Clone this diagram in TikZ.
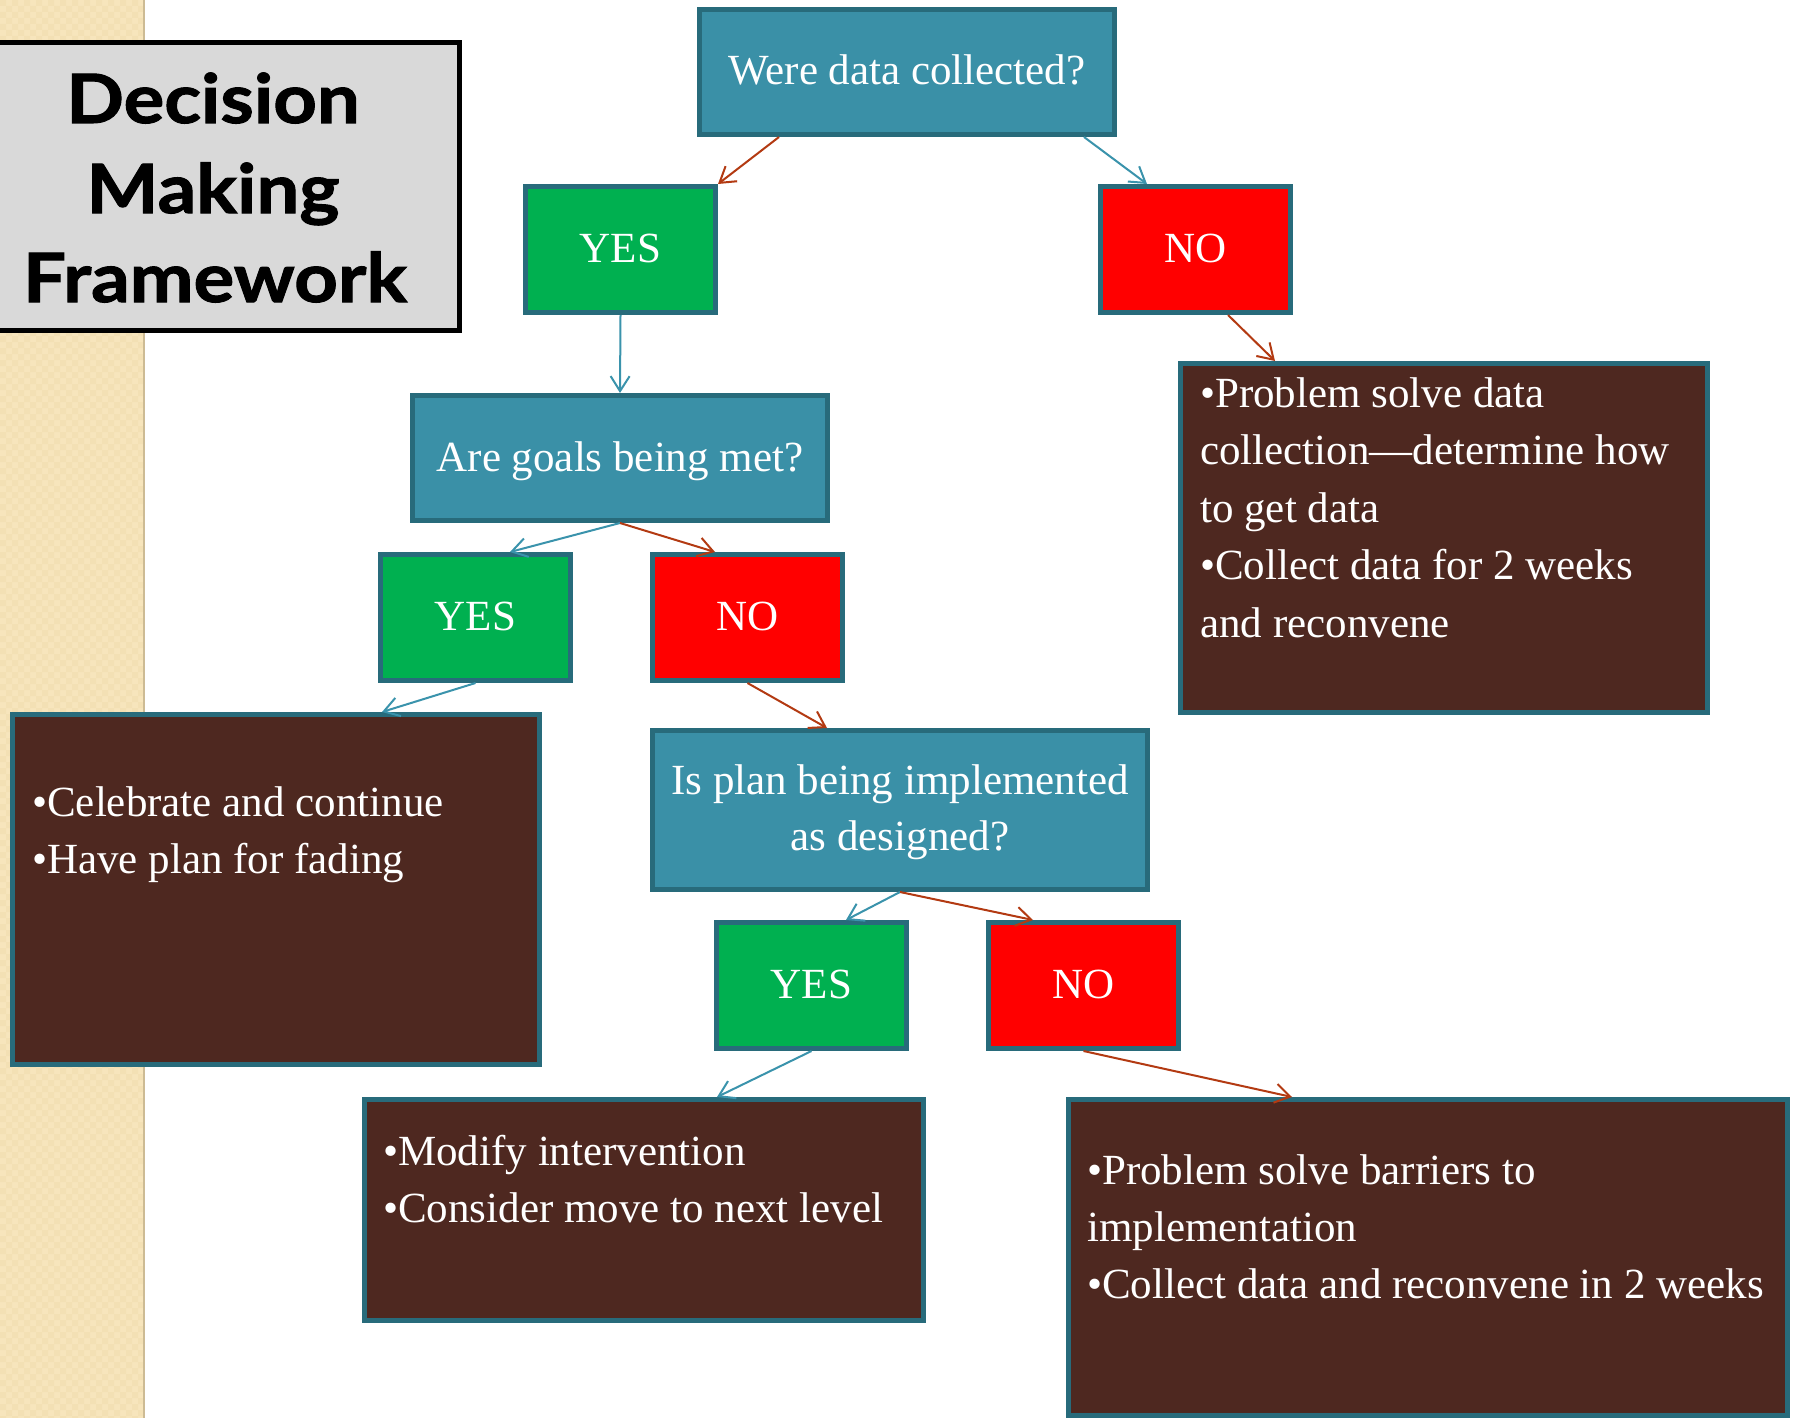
\documentclass[tikz,border=0pt]{standalone}
\usepackage{fontspec}
\setmainfont{Liberation Serif}
\newfontfamily\headfont{Lato}[FakeStretch=1.12, BoldFeatures={FakeBold=1.5}]
\usetikzlibrary{arrows.meta,calc}

\definecolor{qfill}{HTML}{3A90A7}
\definecolor{edge}{HTML}{286B7B}
\definecolor{yesfill}{HTML}{00B050}
\definecolor{nofill}{HTML}{FF0000}
\definecolor{actfill}{HTML}{4E2820}
\definecolor{tealarrow}{HTML}{3A93AC}
\definecolor{redarrow}{HTML}{B33A12}
\definecolor{stripA}{HTML}{F8E7C0}
\definecolor{stripB}{HTML}{F1DCAE}
\definecolor{titlefill}{HTML}{D9D9D9}

\begin{document}
\begin{tikzpicture}[x=1pt,y=-1pt,
  box/.style={draw=edge, line width=5pt, outer sep=2.5pt, inner sep=0pt,
    anchor=north west, text=white, font=\fontsize{43}{52}\selectfont,
    text height=30pt, text depth=4pt},
  qbox/.style={box, fill=qfill, minimum width=415pt, minimum height=125pt},
  yesbox/.style={box, fill=yesfill, minimum width=190pt, minimum height=126pt},
  nobox/.style={box, fill=nofill, minimum width=190pt, minimum height=126pt},
  actbox/.style={box, fill=actfill},
  btext/.style={anchor=base west, inner sep=0pt, text=white,
    font=\fontsize{43}{52}\selectfont},
  ctext/.style={anchor=base, inner sep=0pt, text=white,
    font=\fontsize{43}{52}\selectfont},
  ttext/.style={anchor=base, inner sep=0pt, text=black,
    font=\headfont\bfseries\fontsize{68}{80}\selectfont},
  link/.style={line width=2pt, -{Straight Barb[length=15pt,width=19pt]}},
  yeslink/.style={link, draw=tealarrow},
  nolink/.style={link, draw=redarrow}
]
\useasboundingbox (0,0) rectangle (1796,1418);
\fill[white] (0,0) rectangle (1796,1418);

% textured side strip
\fill[stripA!80!stripB] (0,0) rectangle (145,1418);
\fill[stripB, opacity=0.55] \foreach \i in {0,...,23} {
  \foreach \j in {0,...,118} {
    ({\i*6},{(2*\j+mod(\i,2))*6}) rectangle ++(6,6)
  }
};
\draw[line width=2pt, color=stripB!85!black] (144,0) -- (144,1418);

% title panel
\node[draw=black, line width=5pt, outer sep=2.5pt, inner sep=0pt, fill=titlefill,
  anchor=north west, minimum width=467pt, minimum height=288pt] (title) at (-10,40) {};
\node[ttext] (t1) at (213,123) {Decision};
\node[ttext] (t2) at (213,213) {Making};
\node[ttext] (t3) at (215,302) {Framework};

% decision questions
\node[qbox] (q1) at (697,7) {Were data collected?};
\node[qbox] (q2) at (410,393) {Are goals being met?};
\node[qbox, minimum width=495pt, minimum height=159pt] (q3) at (650,728) {};
\node[ctext] (q3a) at (900,794) {Is plan being implemented};
\node[ctext] (q3b) at (900,850) {as designed?};

% answers
\node[yesbox] (y1) at (523,184) {YES};
\node[nobox]  (n1) at (1098,184) {NO};
\node[yesbox] (y2) at (378,552) {YES};
\node[nobox]  (n2) at (650,552) {NO};
\node[yesbox] (y3) at (714,920) {YES};
\node[nobox]  (n3) at (986,920) {NO};

% actions
\node[actbox, minimum width=527pt, minimum height=349pt] (bR) at (1178,361) {};
\node[btext] (bR1) at (1200,407) {•Problem solve data};
\node[btext] (bR2) at (1200,464.5) {collection—determine how};
\node[btext] (bR3) at (1200,522) {to get data};
\node[btext] (bR4) at (1200,579.5) {•Collect data for 2 weeks};
\node[btext] (bR5) at (1200,637) {and reconvene};

\node[actbox, minimum width=527pt, minimum height=350pt] (bL) at (10,712) {};
\node[btext] (bL1) at (32,816) {•Celebrate and continue};
\node[btext] (bL2) at (32,873) {•Have plan for fading};

\node[actbox, minimum width=559pt, minimum height=221pt] (bBL) at (362,1097) {};
\node[btext] (bBL1) at (383,1165) {•Modify intervention};
\node[btext] (bBL2) at (383,1222) {•Consider move to next level};

\node[actbox, minimum width=719pt, minimum height=316pt] (bBR) at (1066,1097) {};
\node[btext] (bBR1) at (1087,1184) {•Problem solve barriers to};
\node[btext] (bBR2) at (1087,1241) {implementation};
\node[btext] (bBR3) at (1087,1298) {•Collect data and reconvene in 2 weeks};

% connectors
\draw[nolink]  ($(q1.south west)+(82,0)$) -- (y1.north east);
\draw[yeslink] ($(q1.south west)+(387,0)$) -- ($(n1.north west)+(49,0)$);
\draw[yeslink] (y1.south) -- (q2.north);
\draw[nolink]  ($(n1.south west)+(130,0)$) -- ($(bR.north west)+(97,0)$);
\draw[yeslink] (q2.south) -- ($(y2.north west)+(132,0)$);
\draw[nolink]  (q2.south) -- ($(n2.north west)+(65,0)$);
\draw[yeslink] (y2.south) -- ($(bL.north west)+(372,0)$);
\draw[nolink]  (n2.south) -- ($(q3.north west)+(177,0)$);
\draw[yeslink] (q3.south) -- ($(y3.north west)+(132,0)$);
\draw[nolink]  (q3.south) -- ($(n3.north west)+(47,0)$);
\draw[yeslink] (y3.south) -- ($(bBL.north west)+(355,0)$);
\draw[nolink]  (n3.south) -- ($(bBR.north west)+(226,0)$);
\end{tikzpicture}
\end{document}
